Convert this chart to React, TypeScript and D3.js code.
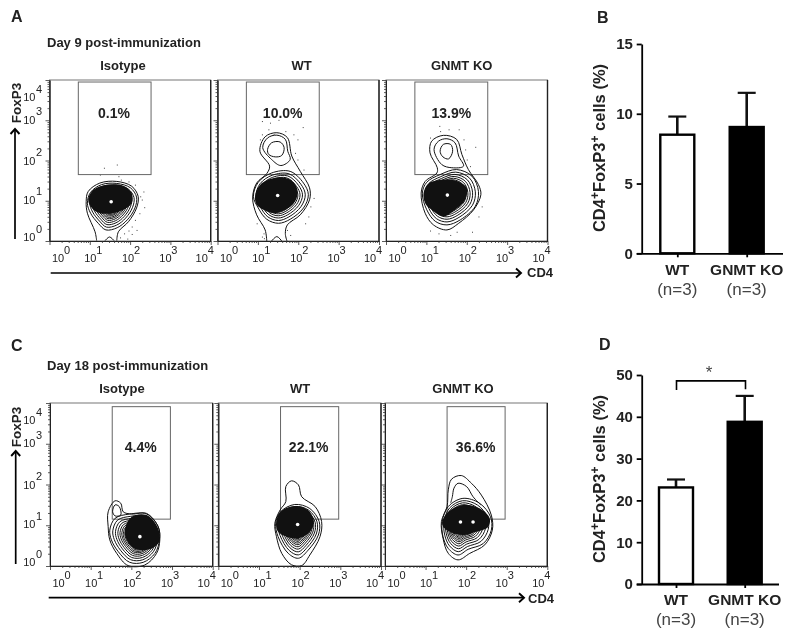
import { useEffect, useRef } from 'react';
import * as d3 from 'd3';

type Pt = [number, number];

const ringLevels = [1, 0.9, 0.81, 0.73, 0.66, 0.6, 0.55, 0.5, 0.46, 0.42, 0.38, 0.35, 0.32, 0.29];

const a1Outer: Pt[] = [[1.17, 0.01], [1.13, 0.23], [0.94, 0.69], [0.91, 0.98], [0.96, 1.23], [1.25, 1.44], [1.67, 1.48], [2.04, 1.36], [2.2, 1.11], [2.16, 0.82], [1.96, 0.48], [1.71, 0.23], [1.67, 0.01]];
const a1Body: Pt[] = [[0.94, 0.94], [1.02, 1.21], [1.29, 1.4], [1.67, 1.43], [2.01, 1.32], [2.16, 1.09], [2.12, 0.82], [1.93, 0.525], [1.68, 0.33], [1.4, 0.275], [1.21, 0.44], [1.02, 0.69]];
const a1Core: Pt[] = [[0.96, 1.025], [1.09, 1.275], [1.42, 1.4], [1.83, 1.375], [2.04, 1.19], [2.04, 0.94], [1.83, 0.775], [1.54, 0.69], [1.25, 0.69], [1.05, 0.82]];
const a1Arc: Pt[] = [[1.38, 0.01], [1.49, 0.1], [1.6, 0.01]];
const a1Centers: Pt[] = [[1.53, 0.975]];
const a1Events: Pt[] = [[2.25, 1.11], [2.29, 1.03], [2.35, 0.84], [2.23, 0.69], [2.12, 0.525], [2.04, 0.36], [1.96, 0.26], [1.85, 0.19], [1.75, 0.09], [2.16, 0.275], [2.04, 0.175], [1.93, 0.06], [1.71, 1.61], [1.67, 1.9], [1.35, 1.82], [1.25, 1.65], [1.77, 1.525], [1.96, 1.48], [2.12, 1.4], [2.33, 1.23]];

const a2Outer: Pt[] = [[1.22, 0], [1.18, 0.275], [0.97, 0.65], [0.87, 1.07], [0.97, 1.44], [1.22, 1.675], [1.29, 1.86], [1.05, 2.23], [1.18, 2.59], [1.47, 2.69], [1.73, 2.57], [1.84, 2.11], [2.05, 1.73], [2.28, 1.32], [2.28, 1.025], [2.05, 0.65], [1.73, 0.4], [1.68, 0.19], [1.72, 0]];
const a2Lobes: Pt[][] = [
  [[1.12, 2.32], [1.24, 2.56], [1.47, 2.63], [1.68, 2.525], [1.74, 2.23], [1.8, 2.025], [1.57, 1.875], [1.34, 2.025]],
  [[1.24, 2.275], [1.34, 2.44], [1.55, 2.46], [1.65, 2.32], [1.59, 2.125], [1.43, 2.09], [1.27, 2.15]],
];
const a2Body: Pt[] = [[0.89, 1.11], [1.01, 1.46], [1.34, 1.69], [1.8, 1.73], [2.13, 1.44], [2.25, 1.15], [2.13, 0.82], [1.8, 0.54], [1.51, 0.44], [1.22, 0.54], [1.01, 0.82]];
const a2Core: Pt[] = [[0.93, 1.11], [1.06, 1.4], [1.43, 1.57], [1.8, 1.525], [1.98, 1.275], [1.92, 0.98], [1.68, 0.775], [1.39, 0.69], [1.14, 0.775], [0.97, 0.9]];
const a2Arc: Pt[] = [[1.34, 0], [1.47, 0.11], [1.59, 0]];
const a2Centers: Pt[] = [[1.49, 1.13]];
const a2Events: Pt[] = [[1.1, 2.98], [1.51, 3.01], [2.11, 2.83], [1.88, 2.65], [1.98, 2.525], [1.1, 2.65], [1.05, 2.525], [1.92, 2.19], [1.98, 2.025], [2.13, 1.775], [2.38, 1.07], [2.3, 0.86], [2.25, 0.61], [2.17, 0.44], [1.14, 0.19], [1.1, 0.11], [1.15, 0.07], [1.8, 0.15], [1.72, 0.275], [0.97, 0.44], [1.68, 2.73], [1.26, 2.775], [1.39, 2.65], [1.3, 2.94]];

const a3Outer: Pt[] = [[0.87, 1.19], [0.97, 1.48], [1.26, 1.69], [1.27, 1.82], [1.09, 2.19], [1.13, 2.48], [1.42, 2.625], [1.75, 2.525], [1.88, 2.15], [2.04, 1.775], [2.29, 1.4], [2.35, 1.15], [2.17, 0.775], [1.8, 0.44], [1.51, 0.275], [1.175, 0.4], [0.97, 0.69]];
const a3Lobes: Pt[][] = [
  [[1.19, 2.275], [1.3, 2.48], [1.51, 2.54], [1.71, 2.44], [1.8, 2.11], [1.92, 1.86], [1.63, 1.82], [1.38, 1.9]],
  [[1.34, 2.23], [1.42, 2.4], [1.6, 2.4], [1.65, 2.23], [1.55, 2.04], [1.41, 2.09]],
];
const a3Body: Pt[] = [[0.9, 1.19], [1.01, 1.46], [1.34, 1.65], [1.75, 1.775], [2.13, 1.61], [2.29, 1.23], [2.21, 0.86], [1.84, 0.525], [1.51, 0.4], [1.22, 0.49], [1.01, 0.775]];
const a3Core: Pt[] = [[0.93, 1.19], [1.05, 1.425], [1.42, 1.525], [1.79, 1.48], [2, 1.32], [1.96, 1.025], [1.71, 0.775], [1.42, 0.61], [1.13, 0.775], [0.97, 0.94]];
const a3Centers: Pt[] = [[1.52, 1.14]];
const a3Events: Pt[] = [[1.32, 2.86], [1.55, 2.775], [1.8, 2.775], [1.92, 2.525], [2.21, 2.34], [1.96, 2.275], [1.09, 0.26], [1.3, 0.19], [1.59, 0.15], [1.75, 0.23], [2.13, 0.23], [2.29, 0.61], [2.37, 0.86], [1.34, 2.73], [1.09, 2.57], [2.08, 1.86], [2, 2.025]];

const c1Outer: Pt[] = [[1.43, 0.965], [1.43, 1.33], [1.6, 1.6], [1.74, 1.54], [1.8, 1.33], [2.01, 1.275], [2.375, 1.29], [2.66, 0.965], [2.7, 0.64], [2.62, 0.31], [2.33, 0.025], [1.92, 0.01], [1.64, 0.31], [1.47, 0.64]];
const c1Lobes: Pt[][] = [[[1.54, 1.33], [1.6, 1.5], [1.7, 1.46], [1.74, 1.25], [1.6, 1.23]]];
const c1Body: Pt[] = [[1.47, 0.88], [1.6, 1.17], [1.96, 1.275], [2.375, 1.275], [2.66, 0.965], [2.69, 0.64], [2.58, 0.31], [2.29, 0.09], [1.96, 0.09], [1.68, 0.35], [1.51, 0.64]];
const c1Core: Pt[] = [[1.84, 0.88], [2.01, 1.21], [2.375, 1.25], [2.64, 0.965], [2.69, 0.6], [2.5, 0.43], [2.21, 0.39], [2.01, 0.47], [1.87, 0.68]];
const c1Centers: Pt[] = [[2.21, 0.72]];

const c2Outer: Pt[] = [[1.39, 1.05], [1.52, 1.375], [1.66, 1.58], [1.66, 1.95], [1.8, 2.09], [1.97, 1.99], [2.05, 1.7], [2.38, 1.46], [2.54, 1.09], [2.5, 0.72], [2.25, 0.27], [2.05, 0.01], [1.8, 0.03], [1.56, 0.31], [1.43, 0.72]];
const c2Body: Pt[] = [[1.41, 1.05], [1.53, 1.33], [1.88, 1.51], [2.25, 1.41], [2.48, 1.09], [2.46, 0.76], [2.21, 0.39], [1.97, 0.19], [1.72, 0.31], [1.47, 0.72]];
const c2Core: Pt[] = [[1.42, 1.05], [1.53, 1.33], [1.88, 1.47], [2.21, 1.37], [2.35, 1.09], [2.25, 0.84], [1.97, 0.68], [1.68, 0.72], [1.47, 0.84]];
const c2Centers: Pt[] = [[1.95, 1.02]];

const c3Outer: Pt[] = [[1.39, 1.09], [1.53, 1.46], [1.56, 1.87], [1.64, 2.13], [1.88, 2.22], [2.13, 2.03], [2.375, 1.74], [2.62, 1.25], [2.645, 0.88], [2.46, 0.52], [2.09, 0.31], [1.8, 0.15], [1.56, 0.31], [1.43, 0.68]];
const c3Hook: Pt[] = [[1.62, 1.55], [1.66, 1.7], [1.7, 1.91], [1.8, 2.03], [2.01, 1.95], [2.17, 1.7], [2.36, 1.5]];
const c3Body: Pt[] = [[1.41, 1.09], [1.56, 1.46], [1.92, 1.66], [2.33, 1.54], [2.6, 1.21], [2.62, 0.88], [2.42, 0.55], [2.05, 0.41], [1.8, 0.27], [1.56, 0.43], [1.43, 0.72]];
const c3Core: Pt[] = [[1.41, 1.09], [1.56, 1.33], [1.92, 1.5], [2.33, 1.415], [2.58, 1.17], [2.54, 0.96], [2.25, 0.84], [1.92, 0.76], [1.6, 0.84], [1.43, 0.97]];
const c3Centers: Pt[] = [[1.86, 1.08], [2.17, 1.08]];

const decades = [0, 1, 2, 3, 4];
const gateA = { x: [0.715, 2.52], y: [1.65, 3.95] };
const gateC = { x: [1.53, 2.96], y: [1.15, 3.91] };

const barLabels = ['WT', 'GNMT KO'];
const day9Means = [8.5, 9.05];
const day9Tops = [9.8, 11.5];
const day18Means = [23.1, 38.8];
const day18Tops = [25, 45];

const FONT = '"Liberation Sans", Arial, sans-serif';

interface PlotSpec {
  x0: number; x1: number; y0: number; y1: number;
  title: string; titleX: number; titleY: number;
  pct: string; pctX: number; pctY: number;
  gate: { x: number[]; y: number[] };
  outer: Pt[]; outerOpen?: boolean; body: Pt[]; core: Pt[]; lobes?: Pt[][]; arc?: Pt[]; centers: Pt[]; events?: Pt[];
  yLabels?: boolean;
}

const plots: PlotSpec[] = [
  { x0: 49.5, x1: 210.7, y0: 80, y1: 241, title: 'Isotype', titleX: 123, titleY: 70, pct: '0.1%', pctX: 114, pctY: 118, gate: gateA, outer: a1Outer, outerOpen: true, body: a1Body, core: a1Core, arc: a1Arc, centers: a1Centers, events: a1Events, yLabels: true },
  { x0: 217.5, x1: 379, y0: 80, y1: 241, title: 'WT', titleX: 301.7, titleY: 70, pct: '10.0%', pctX: 282.7, pctY: 118, gate: gateA, outer: a2Outer, outerOpen: true, body: a2Body, core: a2Core, lobes: a2Lobes, arc: a2Arc, centers: a2Centers, events: a2Events },
  { x0: 386, x1: 547.5, y0: 80, y1: 241, title: 'GNMT KO', titleX: 461.7, titleY: 70, pct: '13.9%', pctX: 451.3, pctY: 118, gate: gateA, outer: a3Outer, body: a3Body, core: a3Core, lobes: a3Lobes, centers: a3Centers, events: a3Events },
  { x0: 50, x1: 212.7, y0: 403, y1: 566, title: 'Isotype', titleX: 122, titleY: 393.3, pct: '4.4%', pctX: 140.7, pctY: 451.7, gate: gateC, outer: c1Outer, body: c1Body, core: c1Core, lobes: c1Lobes, centers: c1Centers, yLabels: true },
  { x0: 218.3, x1: 381, y0: 403, y1: 566, title: 'WT', titleX: 300, titleY: 393.3, pct: '22.1%', pctX: 308.7, pctY: 451.7, gate: gateC, outer: c2Outer, body: c2Body, core: c2Core, centers: c2Centers },
  { x0: 385, x1: 547.3, y0: 403, y1: 566, title: 'GNMT KO', titleX: 463, titleY: 393.3, pct: '36.6%', pctX: 475.7, pctY: 451.7, gate: gateC, outer: c3Outer, body: c3Body, core: c3Core, arc: c3Hook, centers: c3Centers },
];

type Sel = d3.Selection<SVGGElement, unknown, null, undefined>;

function drawPlot(root: Sel, p: PlotSpec) {
  const x = d3.scaleLog().domain([1, 1e4]).range([p.x0, p.x1]);
  const y = d3.scaleLog().domain([1, 1e4]).range([p.y1, p.y0]);
  const px = (d: Pt): [number, number] => [x(10 ** d[0]), y(Math.max(1, 10 ** d[1]))];

  const g = root.append('g');
  const closed = d3.line<Pt>().x(d => px(d)[0]).y(d => px(d)[1]).curve(d3.curveCatmullRomClosed.alpha(0.5));
  const open = d3.line<Pt>().x(d => px(d)[0]).y(d => px(d)[1]).curve(d3.curveCatmullRom.alpha(0.5));

  // events
  g.selectAll('rect.event').data(p.events ?? []).enter().append('rect')
    .attr('x', d => px(d)[0]).attr('y', d => px(d)[1])
    .attr('width', 1).attr('height', 1).attr('fill', '#444');

  // frame and gate
  g.append('rect').attr('x', p.x0).attr('y', p.y0)
    .attr('width', p.x1 - p.x0).attr('height', p.y1 - p.y0)
    .attr('fill', 'none').attr('stroke', '#777').attr('stroke-width', 1);
  g.append('line').attr('x1', p.x1).attr('x2', p.x1).attr('y1', p.y0).attr('y2', p.y1)
    .attr('stroke', '#222').attr('stroke-width', 1.4);
  g.append('rect')
    .attr('x', x(10 ** p.gate.x[0])).attr('y', y(10 ** p.gate.y[1]))
    .attr('width', x(10 ** p.gate.x[1]) - x(10 ** p.gate.x[0]))
    .attr('height', y(10 ** p.gate.y[0]) - y(10 ** p.gate.y[1]))
    .attr('fill', 'none').attr('stroke', '#666').attr('stroke-width', 1);

  // contours
  const contour = g.append('g').attr('fill', 'none').attr('stroke', '#111').attr('stroke-width', 1);
  contour.append('path').attr('d', p.outerOpen ? open(p.outer) : closed(p.outer));
  if (p.arc) contour.append('path').attr('d', open(p.arc));
  (p.lobes ?? []).forEach(l => contour.append('path').attr('d', closed(l)));
  const c0 = p.centers[0];
  ringLevels.forEach(k => {
    const ring = p.body.map(d => [c0[0] + (d[0] - c0[0]) * k, c0[1] + (d[1] - c0[1]) * k] as Pt);
    contour.append('path').attr('d', closed(ring));
  });
  // the rings run together into a black mass around the peak
  g.append('path').attr('d', closed(p.core)).attr('fill', '#111');
  g.selectAll('circle.hole').data(p.centers).enter().append('circle')
    .attr('cx', d => px(d)[0]).attr('cy', d => px(d)[1]).attr('r', 1.8).attr('fill', '#fff');

  // log ticks
  const minors = d3.range(0, 4).flatMap(e => d3.range(2, 10).map(m => m * 10 ** e));
  const majors = decades.map(e => 10 ** e);
  const xAxis = root.append('g').attr('transform', `translate(0,${p.y1})`);
  xAxis.call(d3.axisBottom(x).tickValues(majors).tickSize(4).tickFormat(() => '').tickSizeOuter(0));
  xAxis.append('g').call(d3.axisBottom(x).tickValues(minors).tickSize(2).tickFormat(() => '').tickSizeOuter(0));
  const yAxis = root.append('g').attr('transform', `translate(${p.x0},0)`);
  yAxis.call(d3.axisLeft(y).tickValues(majors).tickSize(4).tickFormat(() => '').tickSizeOuter(0));
  yAxis.append('g').call(d3.axisLeft(y).tickValues(minors).tickSize(2).tickFormat(() => '').tickSizeOuter(0));
  root.selectAll('.domain').attr('stroke', '#222');
  root.selectAll('.tick line').attr('stroke', '#333').attr('stroke-width', 0.8);

  // tick labels, nudged inwards at both ends as in the cytometer export
  const labelNudge = [8.5, 0.5, -2, -5, -9];
  decades.forEach((e, i) => {
    const cx = x(10 ** e) + labelNudge[i];
    g.append('text').attr('x', cx).attr('y', p.y1 + 20.5).attr('text-anchor', 'middle')
      .attr('font-size', 11).attr('fill', '#222').text('10');
    g.append('text').attr('x', cx + 9).attr('y', p.y1 + 13).attr('text-anchor', 'middle')
      .attr('font-size', 11).attr('fill', '#222').text(String(e));
  });
  if (p.yLabels) {
    const yNudge = [-4, -1, 0, -0.5, 17];
    decades.forEach((e, i) => {
      const cy = y(10 ** e) + yNudge[i];
      g.append('text').attr('x', 35.5).attr('y', cy + 4).attr('text-anchor', 'end')
        .attr('font-size', 11).attr('fill', '#222').text('10');
      g.append('text').attr('x', 39).attr('y', cy - 4.5).attr('text-anchor', 'middle')
        .attr('font-size', 11).attr('fill', '#222').text(String(e));
    });
  }

  g.append('text').attr('x', p.titleX).attr('y', p.titleY).attr('text-anchor', 'middle')
    .attr('font-size', 13).attr('font-weight', 700).attr('fill', '#222').text(p.title);
  g.append('text').attr('x', p.pctX).attr('y', p.pctY).attr('text-anchor', 'middle')
    .attr('font-size', 14).attr('font-weight', 700).attr('fill', '#222').text(p.pct);
}

function drawBars(root: Sel, opts: {
  means: number[]; tops: number[]; max: number; ticks: number[];
  x0: number; x1: number; yTop: number; yBottom: number; centers: number[]; labelY: number; titleY: number;
}) {
  const { means, tops, max, ticks, x0, x1, yTop, yBottom, centers, labelY, titleY } = opts;
  const y = d3.scaleLinear().domain([0, max]).range([yBottom, yTop]);
  const barWidth = 34;
  const fills = ['#fff', '#000'];

  const g = root.append('g');
  means.forEach((m, i) => {
    const cx = centers[i];
    g.append('line').attr('x1', cx).attr('x2', cx).attr('y1', y(m)).attr('y2', y(tops[i]))
      .attr('stroke', '#111').attr('stroke-width', 2.6);
    g.append('line').attr('x1', cx - 9).attr('x2', cx + 9).attr('y1', y(tops[i])).attr('y2', y(tops[i]))
      .attr('stroke', '#111').attr('stroke-width', 2.2);
    g.append('rect').attr('x', cx - barWidth / 2).attr('y', y(m))
      .attr('width', barWidth).attr('height', yBottom - y(m))
      .attr('fill', fills[i]).attr('stroke', '#000').attr('stroke-width', 2.4);
  });

  const yAxis = g.append('g').attr('transform', `translate(${x0},0)`);
  yAxis.call(d3.axisLeft(y).tickValues(ticks).tickSize(5).tickSizeOuter(0));
  yAxis.selectAll('text').attr('font-family', FONT).attr('font-size', 15).attr('font-weight', 700)
    .attr('fill', '#222').attr('dx', '-0.05em');

  const xScale = d3.scalePoint<string>().domain(barLabels).range(centers);
  const xAxis = g.append('g').attr('transform', `translate(0,${yBottom})`);
  xAxis.call(d3.axisBottom(xScale).tickSize(4).tickSizeOuter(0).tickFormat(() => ''));
  xAxis.select('.domain').attr('d', `M${x0 - 5},0.5H${x1}`);
  g.selectAll('.domain').attr('stroke', '#000').attr('stroke-width', 1.8);
  g.selectAll('.tick line').attr('stroke', '#000').attr('stroke-width', 1.8);

  barLabels.forEach((label, i) => {
    g.append('text').attr('x', centers[i]).attr('y', labelY).attr('text-anchor', 'middle')
      .attr('font-size', 15.5).attr('font-weight', 700).attr('fill', '#222').text(label);
    g.append('text').attr('x', centers[i]).attr('y', labelY + 20).attr('text-anchor', 'middle')
      .attr('font-size', 17).attr('fill', '#444').text('(n=3)');
  });

  // rotated title with superscripts
  const t = g.append('text').attr('transform', `translate(605,${titleY}) rotate(-90)`)
    .attr('text-anchor', 'middle').attr('font-size', 16.5).attr('font-weight', 700).attr('fill', '#222');
  t.append('tspan').text('CD4');
  t.append('tspan').attr('dy', -6).attr('font-size', 12).text('+');
  t.append('tspan').attr('dy', 6).text('FoxP3');
  t.append('tspan').attr('dy', -6).attr('font-size', 12).text('+');
  t.append('tspan').attr('dy', 6).text(' cells (%)');
  return y;
}

function arrow(root: Sel, x1: number, y1: number, x2: number, y2: number) {
  const g = root.append('g').attr('fill', 'none').attr('stroke', '#000');
  g.append('line').attr('x1', x1).attr('y1', y1).attr('x2', x2).attr('y2', y2).attr('stroke-width', 1.7);
  const head = x1 === x2
    ? `M${x2 - 4.5},${y2 + 5}L${x2},${y2}L${x2 + 4.5},${y2 + 5}`
    : `M${x2 - 5},${y2 - 4.5}L${x2},${y2}L${x2 - 5},${y2 + 4.5}`;
  g.append('path').attr('d', head).attr('stroke-width', 1.9);
}

export default function App() {
  const svgRef = useRef<SVGSVGElement>(null);

  useEffect(() => {
    if (!svgRef.current) return;
    const svg = d3.select(svgRef.current);
    svg.selectAll('*').remove();
    // the reference is a soft scan, so take the edge off everything
    const root = svg.append('g').attr('font-family', FONT).style('filter', 'blur(0.35px)') as unknown as Sel;

    plots.forEach(p => drawPlot(root, p));

    const text = (s: string, x: number, y: number, size: number) =>
      root.append('text').attr('x', x).attr('y', y).attr('font-size', size)
        .attr('font-weight', 700).attr('fill', '#222').text(s);

    text('A', 11, 22, 16);
    text('B', 597, 22.5, 16);
    text('C', 11, 350.5, 16);
    text('D', 599, 350, 16);
    text('Day 9 post-immunization', 47, 46.5, 13);
    text('Day 18 post-immunization', 47, 369.5, 13);
    text('CD4', 527, 277, 13);
    text('CD4', 528, 603, 13);

    arrow(root, 15, 239, 15, 129);
    arrow(root, 50.7, 273, 521, 273);
    arrow(root, 15.7, 564, 15.7, 451);
    arrow(root, 48.7, 597.7, 524, 597.7);
    root.append('text').attr('transform', 'translate(20.5,103) rotate(-90)').attr('text-anchor', 'middle')
      .attr('font-size', 13.5).attr('font-weight', 700).attr('fill', '#222').text('FoxP3');
    root.append('text').attr('transform', 'translate(20.5,427) rotate(-90)').attr('text-anchor', 'middle')
      .attr('font-size', 13.5).attr('font-weight', 700).attr('fill', '#222').text('FoxP3');

    drawBars(root, {
      means: day9Means, tops: day9Tops, max: 15, ticks: [0, 5, 10, 15],
      x0: 641.7, x1: 783, yTop: 44, yBottom: 253.3, centers: [677.3, 746.7], labelY: 275, titleY: 148,
    });
    const yD = drawBars(root, {
      means: day18Means, tops: day18Tops, max: 50, ticks: [0, 10, 20, 30, 40, 50],
      x0: 641.7, x1: 779, yTop: 375, yBottom: 584, centers: [676, 744.7], labelY: 605, titleY: 479,
    });

    // significance bracket in panel D
    root.append('path')
      .attr('d', `M676.5,${yD(46.4)}V${yD(48.6)}H745.5V${yD(46.6)}`)
      .attr('fill', 'none').attr('stroke', '#000').attr('stroke-width', 1.6);
    root.append('text').attr('x', 709).attr('y', 378).attr('text-anchor', 'middle')
      .attr('font-size', 17).attr('fill', '#444').text('*');
  }, []);

  return <svg ref={svgRef} width={795} height={639} style={{ position: 'absolute', left: 0, top: 0 }} />;
}
